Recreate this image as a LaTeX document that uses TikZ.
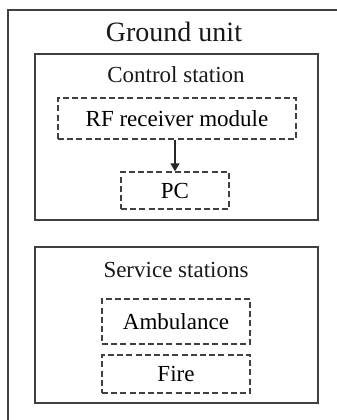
\documentclass[tikz,border=0pt]{standalone}
\usepackage{fontspec}
\setmainfont{Liberation Serif}
\usepackage{tikz}
\usetikzlibrary{arrows,arrows.meta}

\begin{document}
\begin{tikzpicture}[x=0.5pt,y=-0.5pt,inner sep=0pt,
  solidbox/.style={draw=black!75,line width=0.7pt,rectangle},
  dashbox/.style={draw=black!75,line width=0.7pt,dash pattern=on 3pt off 1.6pt,rectangle,font=\fontsize{11.5}{13}\selectfont},
  label/.style={text=black!90,font=\fontsize{11.5}{13}\selectfont}]
\useasboundingbox (0,0) rectangle (337,420);
\clip (0,0) rectangle (337,420);
% outer frame, runs off the page on the right and bottom
\draw[draw=black!75,line width=0.9pt] (8,10) rectangle (360,440);
\node[label,font=\fontsize{14}{16}\selectfont] (G) at (174,32) {Ground unit};
\node[solidbox,minimum width=141.5pt,minimum height=83pt] (C) at (176.5,137) {};
\node[label] (Ct) at (176,75) {Control station};
\node[dashbox,minimum width=119pt,minimum height=20.5pt] (RF) at (177,118.5) {RF receiver module};
\node[dashbox,minimum width=54pt,minimum height=18.5pt] (PC) at (175,190.5) {PC};
\node[solidbox,minimum width=141.5pt,minimum height=78pt] (S) at (176.5,325) {};
\node[label] (St) at (176,270) {Service stations};
\node[dashbox,minimum width=74pt,minimum height=22.5pt] (A) at (176,321.5) {Ambulance};
\node[dashbox,minimum width=74pt,minimum height=19pt] (F) at (176,374) {Fire};
\path (RF.south -| PC.north) edge [-{Triangle[length=4pt,width=4.5pt]},draw=black!85,line width=0.7pt] (PC.north);
\end{tikzpicture}
\end{document}
